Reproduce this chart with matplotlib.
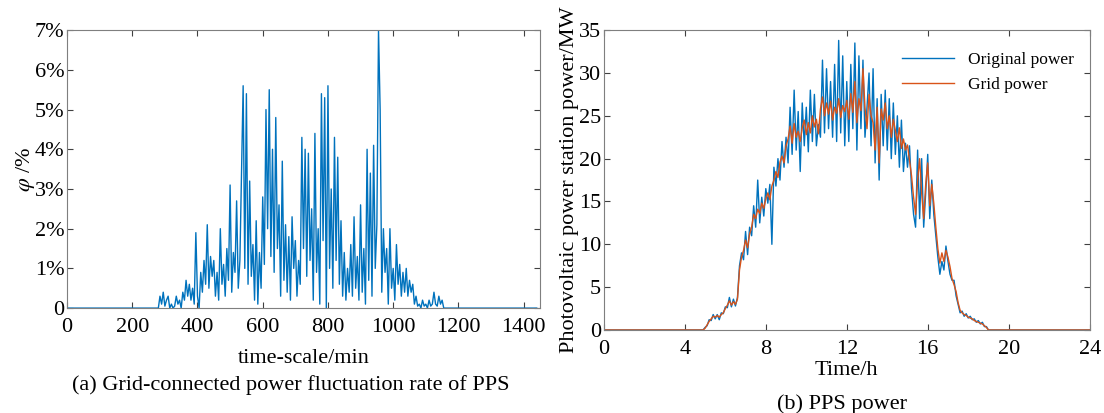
import numpy as np
import matplotlib.pyplot as plt

plt.rcParams['font.family'] = ['Liberation Serif', 'DejaVu Serif']
plt.rcParams['mathtext.fontset'] = 'stix'

# (a) fluctuation rate, % , sampled every 5 min from 280 to 1160
rate_start = 280
rate_step = 5
rate = [
    0, 0.3, 0.1, 0.4, 0.05, 0.2, 0.3, 0.0, 0.1, 0.0,
    0.05, 0.3, 0.1, 0.2, 0.0, 0.4, 0.2, 0.7, 0.3, 0.6,
    0.2, 0.5, 0.1, 1.9, 0.3, 0.0, 0.9, 0.4, 1.2, 0.6,
    2.1, 0.5, 1.3, 0.8, 1.2, 0.3, 0.9, 0.2, 2.0, 0.6,
    1.1, 0.3, 1.5, 0.7, 3.1, 0.4, 1.4, 0.9, 2.7, 0.5,
    1.2, 3.4, 5.6, 1.0, 5.4, 0.6, 3.2, 0.8, 1.6, 0.2,
    2.2, 0.1, 1.4, 0.5, 2.8, 1.1, 5.0, 2.0, 5.5, 1.3,
    4.0, 0.9, 4.8, 1.5, 2.6, 0.3, 3.7, 0.7, 2.1, 0.4,
    1.8, 0.2, 2.3, 1.0, 1.7, 0.3, 1.2, 0.6, 4.3, 1.5,
    4.0, 0.8, 3.9, 1.2, 2.5, 0.2, 4.4, 0.9, 2.0, 0.1,
    5.4, 1.7, 5.3, 0.0, 5.6, 1.0, 3.0, 0.5, 4.3, 1.2,
    3.8, 0.6, 2.2, 0.3, 1.4, 0.2, 1.0, 0.4, 1.6, 0.3,
    2.3, 0.5, 1.3, 0.2, 2.6, 0.4, 1.5, 0.1, 4.0, 0.7,
    3.4, 0.3, 4.1, 1.0, 2.1, 7.0, 5.0, 0.4, 2.0, 0.9,
    1.5, 0.1, 2.0, 0.5, 1.0, 0.2, 1.6, 0.6, 1.1, 0.3,
    0.9, 0.4, 1.0, 0.3, 0.7, 0.4, 0.6, 0.1, 0.3, 0.05,
    0.1, 0.0, 0.2, 0.05, 0.1, 0.0, 0.2, 0.05, 0.1, 0.4,
    0.1, 0.05, 0.3, 0.1, 0.2, 0.0, 0.0,
]

# (b) power, MW, sampled every 0.1 h from 4.9 to 19.0
power_start = 4.9
power_step = 0.1
grid_power = [
    0,
    0.2, 0.6, 1.0, 1.3, 1.6, 1.5, 1.7, 1.5, 1.8, 2.0,
    2.5, 2.9, 3.4, 2.9, 3.3, 3.0, 3.6, 7.0, 8.5, 9.3,
    10.5, 9.6, 11.2, 12.0, 13.5, 13.0, 14.1, 13.6, 14.8, 14.2,
    15.3, 16.0, 15.2, 16.8, 17.5, 18.5, 17.8, 19.6, 20.3, 19.5,
    21.5, 22.3, 23.8, 21.8, 24.1, 22.5, 23.2, 22.0, 23.6, 24.5,
    22.8, 24.2, 23.0, 25.0, 23.7, 24.6, 22.9, 25.8, 27.2, 25.0,
    26.5, 25.2, 26.7, 24.5, 26.0, 25.3, 27.0, 24.8, 26.2, 25.5,
    26.8, 24.6, 27.6, 25.4, 29.0, 24.2, 27.0, 25.6, 30.5, 26.0,
    23.5, 27.5, 25.0, 24.2, 21.0, 26.0, 19.5, 25.8, 24.5, 26.5,
    23.5, 25.0, 22.5, 24.6, 23.3, 22.0, 23.6, 21.2, 22.3, 21.0,
    21.6, 19.8, 18.0, 15.5, 13.5, 17.5, 20.0, 16.0, 13.0, 17.0,
    19.5, 14.5, 17.0, 14.8, 12.0, 9.5, 7.8, 9.0, 8.0, 9.3,
    8.5, 7.4, 6.0, 5.3, 4.5, 3.2, 2.3, 2.0, 1.8, 1.7,
    1.5, 1.4, 1.3, 1.1, 1.0, 0.9, 0.8, 0.7, 0.5, 0.3,
    0.0,
]
orig_power = [
    0,
    0.3, 0.5, 1.2, 1.1, 1.8, 1.3, 1.8, 1.2, 2.0, 1.9,
    2.7, 2.6, 3.8, 2.7, 3.6, 2.8, 3.8, 7.5, 9.0, 8.2,
    11.5, 8.8, 12.0, 11.0, 14.5, 12.0, 17.5, 12.5, 15.5, 13.3,
    16.5, 14.8, 17.0, 10.0, 19.0, 16.8, 20.0, 17.5, 22.0, 19.0,
    22.5, 19.5, 26.0, 20.5, 28.0, 21.0, 25.5, 18.5, 26.5, 21.5,
    26.0, 20.8, 28.0, 22.0, 27.5, 21.5, 24.0, 22.5, 31.5, 23.0,
    30.5, 23.5, 29.0, 22.5, 31.0, 22.0, 33.8, 23.0, 32.0, 21.5,
    29.0, 22.0, 31.0, 23.5, 33.5, 21.0, 32.0, 23.5, 31.5, 22.5,
    26.0, 30.0, 21.5, 30.5, 19.5, 27.0, 17.5, 27.5, 21.5, 28.0,
    21.0, 27.0, 20.0, 26.5, 20.5, 25.0, 19.0, 24.5, 18.5, 21.8,
    19.0, 21.5, 16.5, 13.5, 12.0, 21.0, 13.0, 20.0, 12.0, 16.0,
    20.5, 13.0, 17.5, 13.5, 11.0, 8.5, 6.5, 8.0, 7.0, 9.8,
    8.0, 6.5, 5.8, 5.8, 4.0, 3.0, 2.0, 2.2, 1.6, 1.9,
    1.4, 1.6, 1.2, 1.3, 0.9, 1.1, 0.7, 0.9, 0.4, 0.4,
    0.0,
]

blue = '#0072BD'
orange = '#D95319'
fs = 16

fig = plt.figure(figsize=(11.04, 4.13), dpi=100)

# ---- (a)
ax1 = fig.add_axes([0.0607, 0.254, 0.4284, 0.673])
t_min = rate_start + rate_step * np.arange(len(rate))
x1 = np.concatenate([[0], t_min, [1440]])
y1 = np.concatenate([[0], np.array(rate) / 100, [0]])
ax1.plot(x1, y1, color=blue, lw=1.0)
ax1.set_xlim(0, 1450)
ax1.set_ylim(0, 0.07)
ax1.set_xticks(range(0, 1401, 200))
ax1.set_yticks([i / 100 for i in range(8)])
ax1.set_yticklabels(['0'] + [f'{i}%' for i in range(1, 8)])
ax1.set_xlabel('time-scale/min', fontsize=fs, labelpad=9)
ax1.set_ylabel(r'$\varphi$ /%', fontsize=fs, labelpad=-2)
fig.text(0.263, 0.055, '(a) Grid-connected power fluctuation rate of PPS',
         ha='center', fontsize=fs)

# ---- (b)
ax2 = fig.add_axes([0.547, 0.201, 0.440, 0.726])
t_h = power_start + power_step * np.arange(len(grid_power))
x2 = np.concatenate([[0], t_h, [24]])
ax2.plot(x2, np.concatenate([[0], orig_power, [0]]), color=blue, lw=1.0,
         label='Original power')
ax2.plot(x2, np.concatenate([[0], grid_power, [0]]), color=orange, lw=1.0,
         label='Grid power')
ax2.set_xlim(0, 24)
ax2.set_ylim(0, 35)
ax2.set_xticks(range(0, 25, 4))
ax2.set_yticks(range(0, 36, 5))
ax2.set_xlabel('Time/h', fontsize=fs, labelpad=2)
ax2.set_ylabel('Photovoltaic power station power/MW', fontsize=fs, labelpad=0)
ax2.legend(loc='upper right', frameon=False, fontsize=12.5, handlelength=3,
           bbox_to_anchor=(1.0, 0.98))
fig.text(0.763, 0.01, '(b) PPS power', ha='center', fontsize=fs)

for ax in (ax1, ax2):
    ax.tick_params(direction='in', top=True, right=True, labelsize=fs,
                   color='#404040', length=4)
    ax.tick_params(axis='x', pad=7)
    ax.tick_params(axis='y', pad=2)
    for s in ax.spines.values():
        s.set_color('#7f7f7f')

fig.savefig('out.png', dpi=100)
